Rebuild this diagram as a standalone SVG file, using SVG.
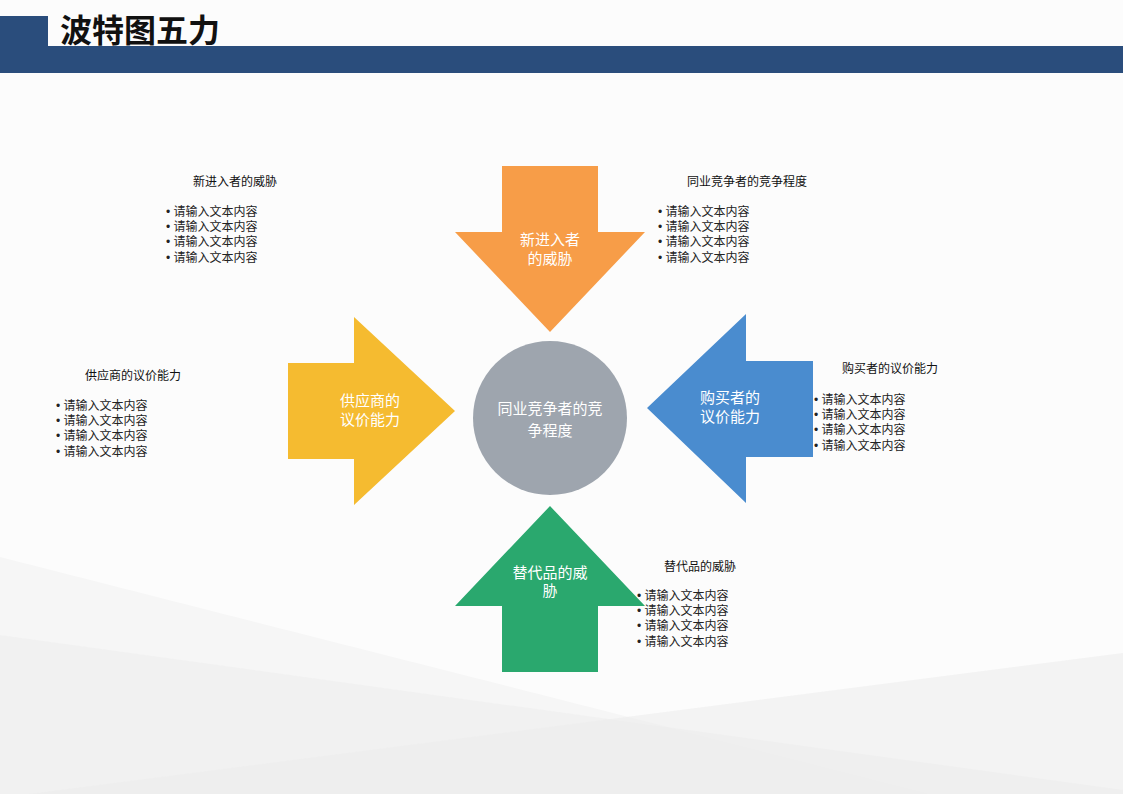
<svg xmlns="http://www.w3.org/2000/svg" width="1123" height="794" viewBox="0 0 1123 794">
<style>
text{font-family:"Liberation Sans","Noto Sans CJK SC",sans-serif}
.h{font-size:12px;fill:#111;text-anchor:middle}
.b{font-size:12px;fill:#222}
.w{font-size:15px;fill:#fff;text-anchor:middle}
</style>
<rect width="1123" height="794" fill="#fcfcfc"/>
<polygon points="0,557 931,794 0,794" fill="#f6f6f6"/>
<polygon points="0,635 1123,790 1123,794 0,794" fill="#f0f0f0" opacity="0.8"/>
<polygon points="29,794 1123,653 1123,794" fill="#ececec" opacity="0.6"/>
<g id="header">
<rect x="0" y="16" width="48" height="57" fill="#2a4d7c"/>
<rect x="0" y="46" width="1123" height="27" fill="#2a4d7c"/>
<text x="60" y="42" font-size="32" font-weight="bold" fill="#111">波特图五力</text>
</g>
<g id="connectors"></g>
<g id="new"><polygon points="502,166 598,166 598,232 645,232 550,332 455,232 502,232" fill="#f79d48"/>
<text class="w" x="550" y="245">新进入者</text><text class="w" x="550" y="264">的威胁</text></g>
<g id="supplier"><polygon points="288,363 354,363 354,317 455,411 354,505 354,459 288,459" fill="#f5bb30"/>
<text class="w" x="370" y="406">供应商的</text><text class="w" x="370" y="425">议价能力</text></g>
<g id="buyer"><polygon points="813,361 746,361 746,314 647,408 746,503 746,457 813,457" fill="#4a8ccf"/>
<text class="w" x="730" y="403">购买者的</text><text class="w" x="730" y="422">议价能力</text></g>
<g id="sub"><polygon points="550,506 645,606 598,606 598,672 502,672 502,606 455,606" fill="#2aa86e"/>
<text class="w" x="550" y="578">替代品的威</text><text class="w" x="550" y="596">胁</text></g>
<g id="center"><circle cx="550" cy="418" r="77" fill="#9ea5ae"/>
<text class="w" x="550" y="414" font-size="17">同业竞争者的竞</text><text class="w" x="550" y="436" font-size="17">争程度</text></g>
<g id="t1"><text class="h" x="235" y="186">新进入者的威胁</text>
<text class="b" x="166" y="216">• 请输入文本内容</text><text class="b" x="166" y="231">• 请输入文本内容</text><text class="b" x="166" y="246">• 请输入文本内容</text><text class="b" x="166" y="262">• 请输入文本内容</text></g>
<g id="t2"><text class="h" x="747" y="186">同业竞争者的竞争程度</text>
<text class="b" x="658" y="216">• 请输入文本内容</text><text class="b" x="658" y="231">• 请输入文本内容</text><text class="b" x="658" y="246">• 请输入文本内容</text><text class="b" x="658" y="262">• 请输入文本内容</text></g>
<g id="t3"><text class="h" x="133" y="380">供应商的议价能力</text>
<text class="b" x="56" y="410">• 请输入文本内容</text><text class="b" x="56" y="425">• 请输入文本内容</text><text class="b" x="56" y="440">• 请输入文本内容</text><text class="b" x="56" y="456">• 请输入文本内容</text></g>
<g id="t4"><text class="h" x="890" y="373">购买者的议价能力</text>
<text class="b" x="814" y="404">• 请输入文本内容</text><text class="b" x="814" y="419">• 请输入文本内容</text><text class="b" x="814" y="434">• 请输入文本内容</text><text class="b" x="814" y="450">• 请输入文本内容</text></g>
<g id="t5"><text class="h" x="700" y="571">替代品的威胁</text>
<text class="b" x="637" y="600">• 请输入文本内容</text><text class="b" x="637" y="615">• 请输入文本内容</text><text class="b" x="637" y="630">• 请输入文本内容</text><text class="b" x="637" y="646">• 请输入文本内容</text></g>
</svg>
